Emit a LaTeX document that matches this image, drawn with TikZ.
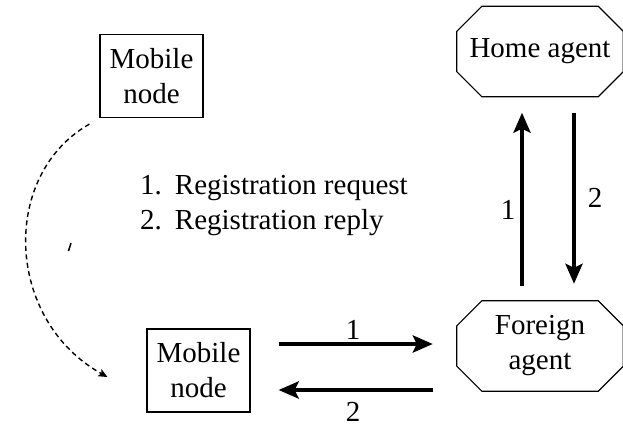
\documentclass[tikz,border=0pt]{standalone}
\usepackage{fontspec}
\setmainfont{Liberation Serif}
\usetikzlibrary{arrows.meta}
\begin{document}
\begin{tikzpicture}[x=1pt,y=-1pt,
  every node/.style={font=\fontsize{29}{35}\selectfont},
  boxnode/.style={draw,line width=1.2pt,minimum width=103pt,minimum height=83pt,inner sep=0pt,align=center},
  agent/.style={minimum width=166pt,minimum height=90pt,inner sep=0pt,align=center},
  oct/.style={line width=1.2pt,line join=miter},
  bigarrow/.style={line width=4.5pt,-{Stealth[length=20pt,width=17pt,inset=4pt]}},
  movearrow/.style={line width=1.4pt,dash pattern=on 5pt off 3.5pt,-{Stealth[length=9pt,width=8pt,inset=2pt]}},
  lbl/.style={inner sep=0pt}]
\useasboundingbox (0,0) rectangle (623,428);
\node[boxnode] (mob1) at (151.5,76) {Mobile\\node};
\node[boxnode] (mob2) at (198.5,370.5) {Mobile\\node};
\node[agent] (ha) at (540,51.5) {Home agent};
\node[agent] (fa) at (540,346) {Foreign\\agent};
\foreach \n in {ha,fa}
  \draw[oct] ([xshift=25pt]\n.north west) -- ([xshift=-25pt]\n.north east) -- ([yshift=-25pt]\n.north east)
    -- ([yshift=25pt]\n.south east) -- ([xshift=-25pt]\n.south east) -- ([xshift=25pt]\n.south west)
    -- ([yshift=25pt]\n.south west) -- ([yshift=-25pt]\n.north west) -- cycle;
\node[inner sep=0pt,anchor=west,align=left] (legend) at (140,205)
  {\begin{tabular}{@{}l@{\hspace{13pt}}l@{}}1. & Registration request\\ 2. & Registration reply\end{tabular}};
% vertical arrows
\draw[bigarrow] ([xshift=-18pt,yshift=15pt]fa.north) -- ([xshift=-18pt,yshift=-16pt]ha.south);
\draw[bigarrow] ([xshift=34pt,yshift=-16pt]ha.south) -- ([xshift=34pt,yshift=17pt]fa.north);
\node[lbl] (l1v) at (508,210) {1};
\node[lbl] (l2v) at (595,198) {2};
% horizontal arrows
\draw[bigarrow] ([xshift=28pt,yshift=26.5pt]mob2.east) -- ([xshift=-24pt,yshift=2pt]fa.west);
\draw[bigarrow] ([xshift=-24pt,yshift=-44pt]fa.west) -- ([xshift=28pt,yshift=-19.5pt]mob2.east);
\node[lbl] (l1h) at (353,330) {1};
\node[lbl] (l2h) at (353,412) {2};
% movement of the mobile node
\draw[movearrow] ([xshift=-10pt,yshift=-6pt]mob1.south west) .. controls (0,175) and (5,320) .. ([xshift=-39pt,yshift=-6.5pt]mob2.west);
\draw[line width=1.5pt] (68.5,251) -- (71,243);
\end{tikzpicture}
\end{document}
